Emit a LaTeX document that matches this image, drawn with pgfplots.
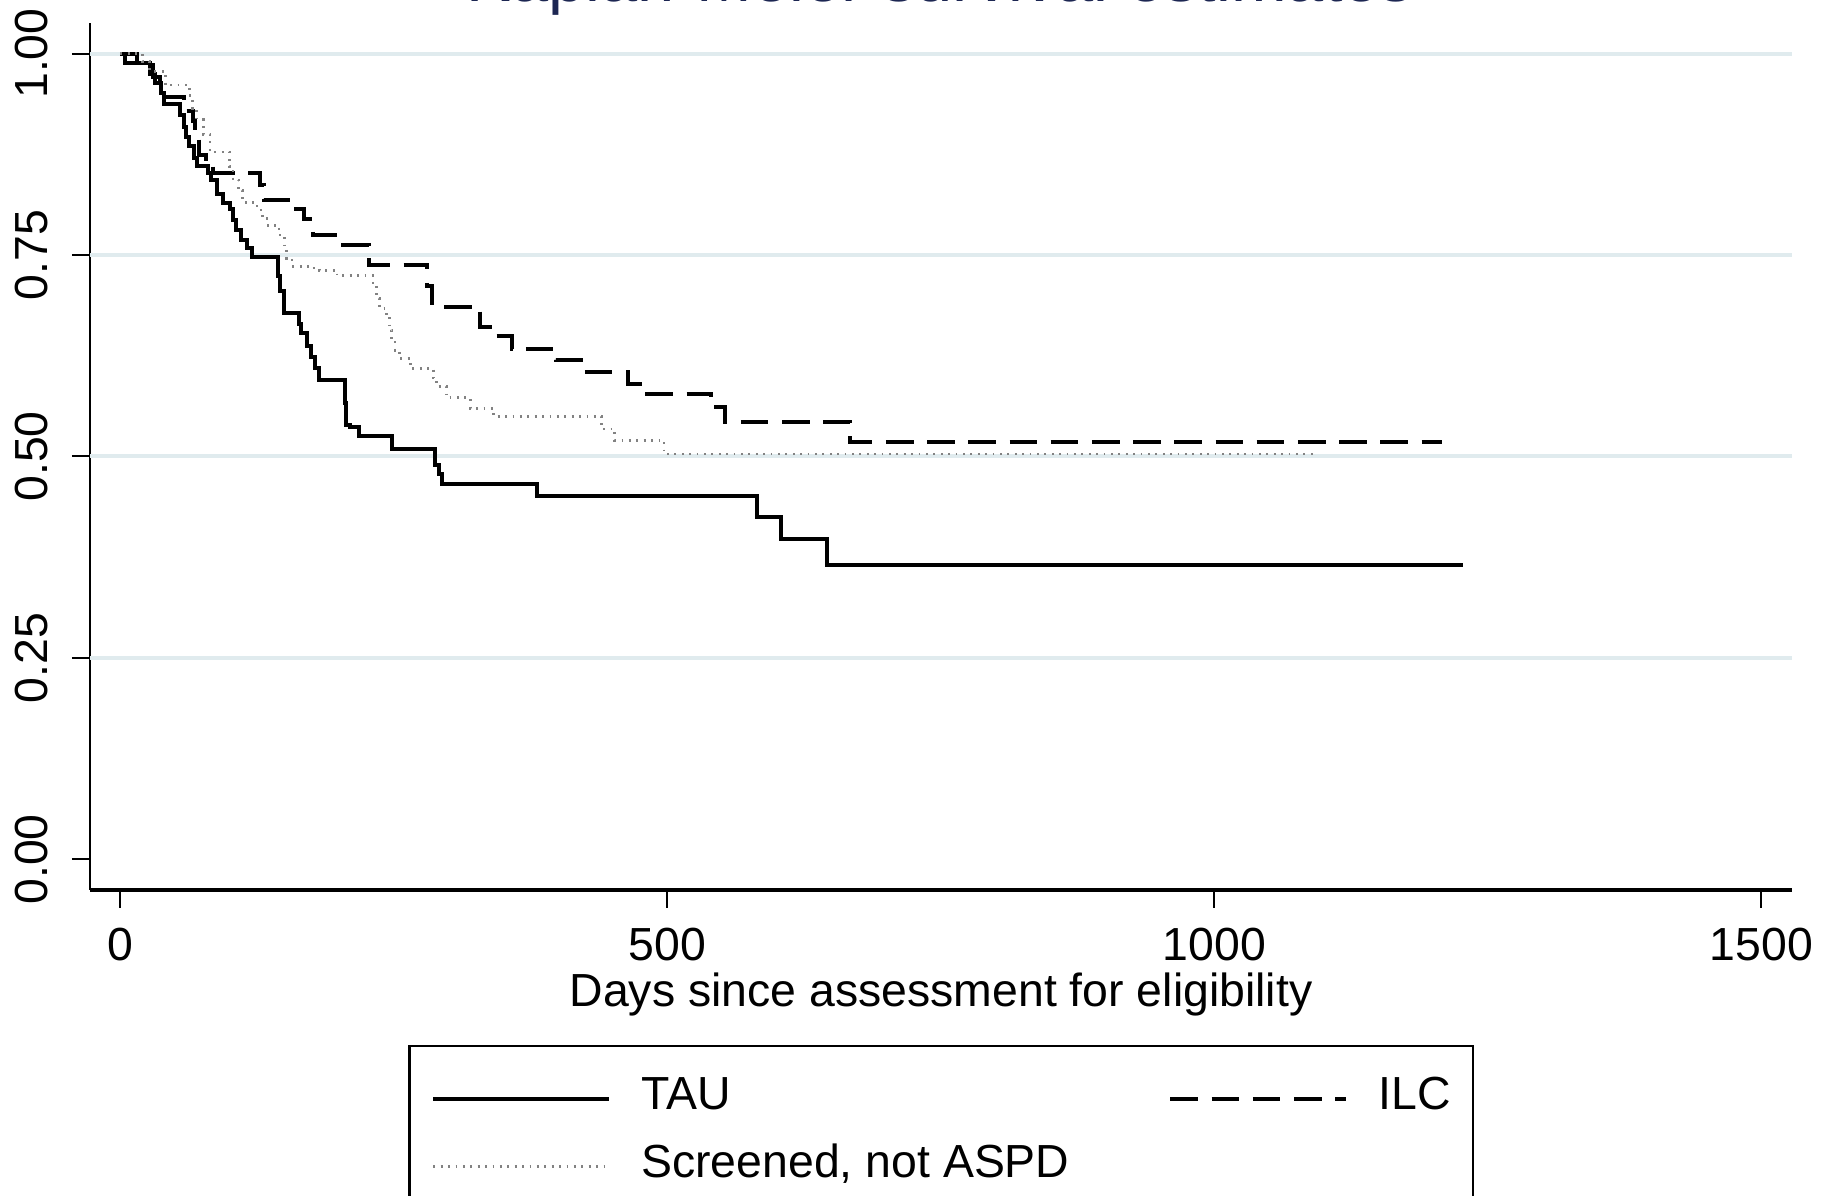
\documentclass[border=0pt]{standalone}
\usepackage{fontspec}
\setmainfont{Liberation Sans}
\usepackage{pgfplots}
\pgfplotsset{compat=1.18}

\definecolor{gridblue}{RGB}{224,235,238}
\definecolor{titlenavy}{RGB}{28,38,82}
\definecolor{dotgray}{RGB}{130,130,130}

\begin{document}
\fontsize{11.6}{13.9}\selectfont
\begin{tikzpicture}
\begin{axis}[
  at={(0,0)}, anchor=south west,
  scale only axis, width=425.5pt, height=216.75pt,
  xmin=-27.7, xmax=1528, ymin=-0.038, ymax=1.038,
  axis x line*=bottom, axis y line*=left,
  x axis line style={-, line width=1pt},
  y axis line style={-, line width=0.7pt},
  xtick={0,500,1000,1500},
  xticklabels={0,500,1000,1500},
  ytick={0,0.25,0.5,0.75,1},
  yticklabels={0.00,0.25,0.50,0.75,1.00},
  extra y ticks={0.25,0.5,0.75,1},
  extra y tick labels={},
  extra y tick style={grid=major, major tick length=0pt},
  major grid style={gridblue, line width=1pt},
  tick align=outside,
  major tick length=4.5pt,
  tick style={black, line width=0.5pt},
  xticklabel style={anchor=base, yshift=-13.25pt, inner sep=0pt},
  yticklabel style={xshift=-6pt, rotate=90, anchor=base, inner sep=0pt},
  xlabel={Days since assessment for eligibility},
  xlabel style={at={(axis description cs:0.5,-0.1338)}, anchor=base, inner sep=0pt},
  legend columns=2,
  legend cell align=left,
  legend image code/.code={\draw[#1] (0pt,0pt) -- (44pt,0pt);},
  legend style={at={(0.5,-0.1788)}, anchor=north, draw=black, line width=0.6pt,
    inner xsep=5.5pt, inner ysep=7.4pt, row sep=5.5pt,
    nodes={inner sep=0pt, text height=8.5pt, text depth=3pt},
    /tikz/every odd column/.append style={column sep=7.5pt},
    /tikz/every even column/.append style={column sep=24.75pt}},
]
% TAU
\addplot[const plot, black, line width=1pt] coordinates {
(0,1) (4,0.988) (27,0.975) (32,0.963) (37,0.951) (40,0.937) (55,0.924)
(58,0.909) (60,0.897) (63,0.885) (67,0.870) (70,0.860) (80,0.852) (83,0.843)
(88,0.826) (94,0.815) (100,0.807) (103,0.794) (106,0.781) (110,0.769)
(116,0.759) (120,0.748) (144,0.724) (146,0.705) (150,0.678) (163,0.665)
(165,0.653) (171,0.637) (174,0.624) (178,0.610) (182,0.595) (205,0.567)
(206,0.539) (210,0.537) (218,0.525) (248,0.509) (288,0.490) (291,0.478)
(294,0.466) (381,0.451) (582,0.425) (604,0.397) (646,0.365) (1227,0.365)
};
\addlegendentry{TAU}
% ILC
\addplot[const plot, black, line width=1pt, dash pattern=on 6.9pt off 3.4pt] coordinates {
(0,1) (15,0.986) (30,0.971) (36,0.960) (40,0.946) (58,0.929) (66,0.916)
(68,0.895) (72,0.874) (78,0.865) (85,0.852) (128,0.837) (131,0.818)
(158,0.807) (168,0.795) (176,0.775) (201,0.763) (227,0.738) (280,0.712)
(285,0.686) (329,0.661) (338,0.649) (358,0.634) (398,0.620) (424,0.605)
(464,0.590) (480,0.578) (540,0.561) (553,0.543) (667,0.5185) (1208,0.5185)
};
\addlegendentry{ILC}
% Screened, not ASPD
\addplot[const plot, dotgray, line width=0.7pt, dash pattern=on 0.45pt off 1.4pt] coordinates {
(0,1) (20,0.990) (27,0.978) (41,0.961) (63,0.948) (66,0.932) (70,0.918)
(76,0.900) (82,0.878) (100,0.860) (103,0.843) (108,0.830) (112,0.815)
(125,0.806) (130,0.795) (135,0.787) (145,0.775) (150,0.760) (152,0.746)
(157,0.736) (175,0.734) (182,0.731) (198,0.7245) (231,0.7125) (234,0.696)
(237,0.684) (243,0.674) (246,0.657) (248,0.645) (251,0.632) (255,0.622)
(265,0.6095) (286,0.5975) (289,0.587) (298,0.573) (320,0.560) (341,0.550)
(440,0.534) (452,0.520) (497,0.503) (1093,0.503)
};
\addlegendentry{Screened, not ASPD}
\end{axis}
\pgfresetboundingbox
\useasboundingbox (-22.5pt,-76.5pt) rectangle (435.25pt,222.5pt);
\node[anchor=base, inner sep=0pt, text=titlenavy, font=\fontsize{16.7}{20}\selectfont]
  at (212.5pt,222.1pt) {Kaplan-Meier survival estimates};
\end{tikzpicture}
\end{document}
